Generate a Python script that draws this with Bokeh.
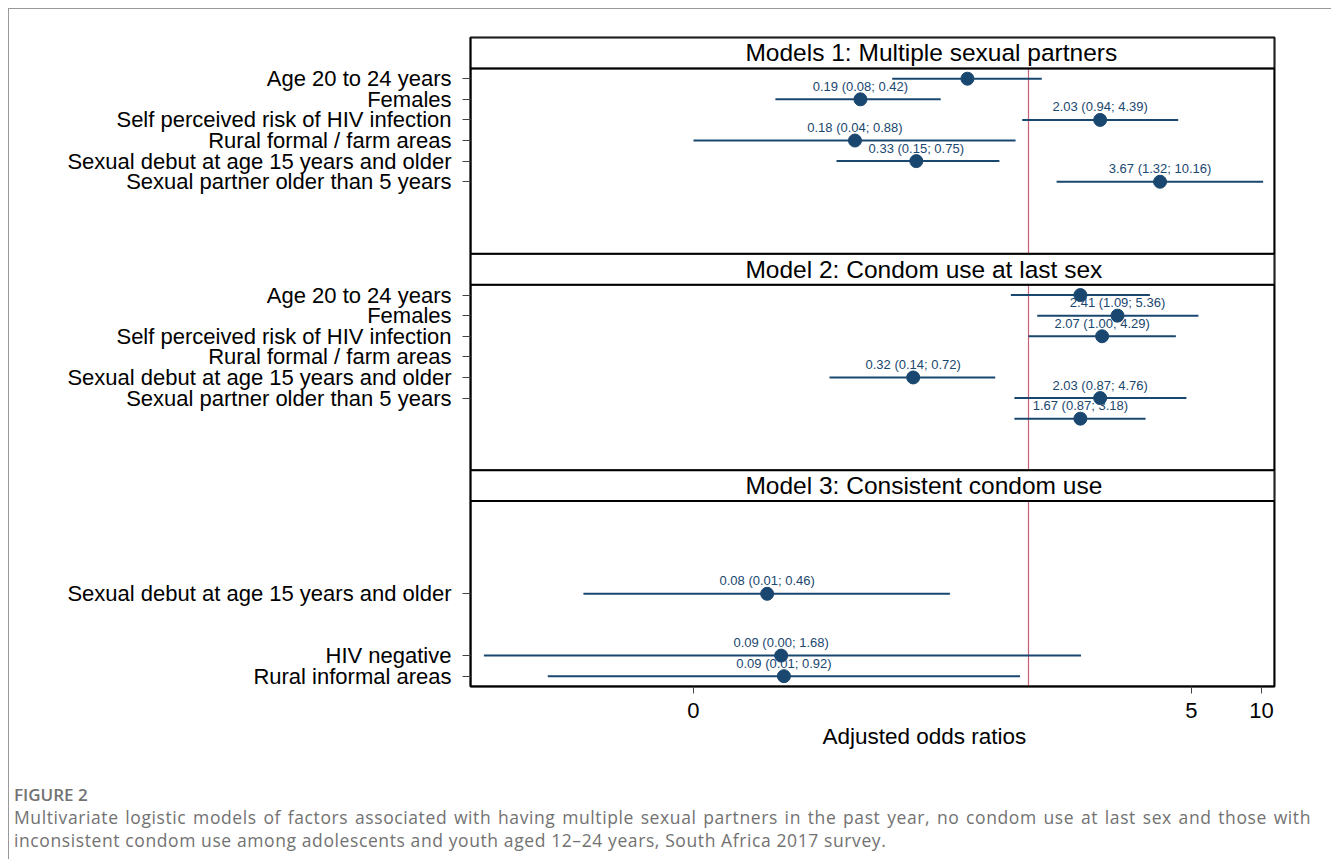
import math
from bokeh.plotting import figure
from bokeh.models import Range1d, FixedTicker, ColumnDataSource, Label, Div, Title
from bokeh.layouts import column
from bokeh.embed import file_html
from bokeh.resources import INLINE
from bokeh.core.properties import value

NAN = float("nan")

# ---------------- data ----------------
model_titles = ["Models 1: Multiple sexual partners",
                "Model 2: Condom use at last sex",
                "Model 3: Consistent condom use"]

m1_rows = ["Age 20 to 24 years", "Females", "Self perceived risk of HIV infection",
           "Rural formal / farm areas", "Sexual debut at age 15 years and older",
           "Sexual partner older than 5 years"]
m1_or = [0.547, 0.19, 2.03, 0.18, 0.33, 3.67]
m1_lo = [0.26, 0.082, 0.94, 0.0365, 0.15, 1.32]
m1_hi = [1.14, 0.42, 4.39, 0.88, 0.75, 10.16]
m1_text = ["", "0.19 (0.08; 0.42)", "2.03 (0.94; 4.39)", "0.18 (0.04; 0.88)",
           "0.33 (0.15; 0.75)", "3.67 (1.32; 10.16)"]

m2_rows = ["Age 20 to 24 years", "Females", "Self perceived risk of HIV infection",
           "Rural formal / farm areas", "Sexual debut at age 15 years and older",
           "Sexual partner older than 5 years", ""]
m2_or = [1.67, 2.41, 2.07, NAN, 0.32, 2.03, 1.67]
m2_lo = [0.84, 1.09, 1.00, NAN, 0.14, 0.87, 0.87]
m2_hi = [3.32, 5.36, 4.29, NAN, 0.72, 4.76, 3.18]
m2_text = ["", "2.41 (1.09; 5.36)", "2.07 (1.00; 4.29)", "", "0.32 (0.14; 0.72)",
           "2.03 (0.87; 4.76)", "1.67 (0.87; 3.18)"]

m3_rows = ["", "", "", "", "Sexual debut at age 15 years and older", "", "",
           "HIV negative", "Rural informal areas"]
m3_or = [NAN, NAN, NAN, NAN, 0.0756, NAN, NAN, 0.0868, 0.0892]
m3_lo = [NAN, NAN, NAN, NAN, 0.0123, NAN, NAN, 0.0046, 0.00865]
m3_hi = [NAN, NAN, NAN, NAN, 0.46, NAN, NAN, 1.68, 0.92]
m3_text = ["", "", "", "", "0.08 (0.01; 0.46)", "", "", "0.09 (0.00; 1.68)",
           "0.09 (0.01; 0.92)"]

x_tick_values = [0.0365, 5, 10]
x_tick_labels = ["0", "5", "10"]
x_title = "Adjusted  odds ratios"

caption_head = "FIGURE 2"
caption_line1 = ("Multivariate logistic models of factors associated with having multiple sexual "
                 "partners in the past year, no condom use at last sex and those with")
caption_line2 = ("inconsistent condom use among adolescents and youth aged 12\u201324 years, "
                 "South Africa 2017 survey.")

# ---------------- layout constants ----------------
TITLE_H = 1.5
AREA_H = 9.0
PANEL_H = TITLE_H + AREA_H
NAVY = "#1a476f"
FONT = "Liberation Sans"

models = [(m1_rows, m1_or, m1_lo, m1_hi, m1_text),
          (m2_rows, m2_or, m2_lo, m2_hi, m2_text),
          (m3_rows, m3_or, m3_lo, m3_hi, m3_text)]

pts = dict(y=[], est=[], lo=[], hi=[], label=[])
ytick_pos, ytick_lab = [], []
for pi, (rows, est, lo, hi, txt) in enumerate(models):
    for r, name in enumerate(rows):
        y = pi * PANEL_H + TITLE_H + 0.5 + r
        if name:
            ytick_pos.append(y)
            ytick_lab.append(name)
        if not math.isnan(est[r]):
            pts["y"].append(y)
            pts["est"].append(est[r])
            pts["lo"].append(lo[r])
            pts["hi"].append(hi[r])
            pts["label"].append(txt[r])
src = ColumnDataSource(pts)

XMIN, XMAX = 0.00403, 11.37
YMAX = 3 * PANEL_H

p = figure(frame_width=804, frame_height=649, x_axis_type="log",
           x_range=Range1d(XMIN, XMAX), y_range=Range1d(YMAX, 0),
           min_border_left=461, min_border_right=45, min_border_top=28,
           min_border_bottom=80, output_backend="svg", toolbar_location=None)
p.xgrid.visible = False
p.ygrid.visible = False
p.outline_line_color = "black"
p.outline_line_width = 2
p.background_fill_color = "white"
p.border_fill_color = "white"

# reference line at OR = 1 (only inside panel areas)
ref = dict(x0=[1, 1, 1], y0=[i * PANEL_H + TITLE_H for i in range(3)],
           y1=[(i + 1) * PANEL_H for i in range(3)])
p.segment(x0="x0", x1="x0", y0="y0", y1="y1", source=ColumnDataSource(ref),
          line_color="#c8607a", line_width=1.2)

# CIs, points, labels
p.segment(x0="lo", x1="hi", y0="y", y1="y", source=src, line_color=NAVY, line_width=2)
p.scatter(x="est", y="y", source=src, size=13, fill_color=NAVY, line_color=NAVY)
p.text(x="est", y="y", text="label", source=src, text_align="center",
       text_baseline="middle", y_offset=-13, text_font=value(FONT),
       text_font_size="13px", text_color=NAVY)

# title bars
tb = dict(left=[XMIN] * 3, right=[XMAX] * 3,
          top=[i * PANEL_H for i in range(3)],
          bottom=[i * PANEL_H + TITLE_H for i in range(3)])
p.quad(left="left", right="right", top="top", bottom="bottom",
       source=ColumnDataSource(tb), fill_color="white", line_color="black", line_width=2)
for i, t in enumerate(model_titles):
    p.add_layout(Label(x=0.061, y=i * PANEL_H + TITLE_H / 2, text=t, text_align="left",
                       text_baseline="middle", text_font=FONT, text_font_size="24.5px",
                       text_color="black"))
# panel area borders
pa = dict(left=[XMIN] * 3, right=[XMAX] * 3,
          top=[i * PANEL_H + TITLE_H for i in range(3)],
          bottom=[(i + 1) * PANEL_H for i in range(3)])
p.quad(left="left", right="right", top="top", bottom="bottom",
       source=ColumnDataSource(pa), fill_color=None, line_color="black", line_width=1.5)

# y axis
p.yaxis.ticker = FixedTicker(ticks=ytick_pos, minor_ticks=[])
p.yaxis.major_label_overrides = {yv: lab for yv, lab in zip(ytick_pos, ytick_lab)}
p.yaxis.major_label_text_font = FONT
p.yaxis.major_label_text_font_size = "22px"
p.yaxis.major_label_text_color = "black"
p.yaxis.major_label_standoff = 11
p.yaxis.major_tick_in = 0
p.yaxis.major_tick_out = 8
p.yaxis.major_tick_line_color = "#444444"
p.yaxis.minor_tick_line_color = None
p.yaxis.axis_line_color = "black"
p.yaxis.axis_line_width = 1.5

# x axis
p.xaxis.ticker = FixedTicker(ticks=x_tick_values, minor_ticks=[])
p.xaxis.major_label_overrides = {v: l for v, l in zip(x_tick_values, x_tick_labels)}
p.xaxis.major_label_text_font = FONT
p.xaxis.major_label_text_font_size = "22px"
p.xaxis.major_label_text_color = "black"
p.xaxis.major_label_standoff = 9
p.xaxis.major_tick_in = 0
p.xaxis.major_tick_out = 7
p.xaxis.major_tick_line_color = "#444444"
p.xaxis.minor_tick_line_color = None
p.xaxis.axis_line_color = "black"
p.xaxis.axis_line_width = 1.5

p.add_layout(Title(text=x_title, align="left", offset=352, text_font=FONT,
                   text_font_size="22.5px", text_font_style="normal",
                   text_color="black", standoff=3), "below")

cap = Div(text=(
    '<div style="font-family:\'Open Sans\',sans-serif;color:#727272;width:1297px;'
    'margin-left:0px;margin-top:13px;">'
    '<div style="font-size:17px;font-weight:600;line-height:22px;">' + caption_head + '</div>'
    '<div style="font-size:17.5px;letter-spacing:0.6px;line-height:22.5px;'
    'text-align:justify;text-align-last:justify;">'
    + caption_line1 + '</div>'
    '<div style="font-size:17.5px;letter-spacing:0.6px;line-height:22.5px;">'
    + caption_line2 + '</div></div>'),
    width=1310, height=84)

layout = column(p, cap, width=1323,
                styles={"margin-left": "8px", "margin-top": "8px",
                        "border-top": "1px solid #999", "border-left": "1px solid #999"})

open("out.html", "w").write(file_html(layout, INLINE))
